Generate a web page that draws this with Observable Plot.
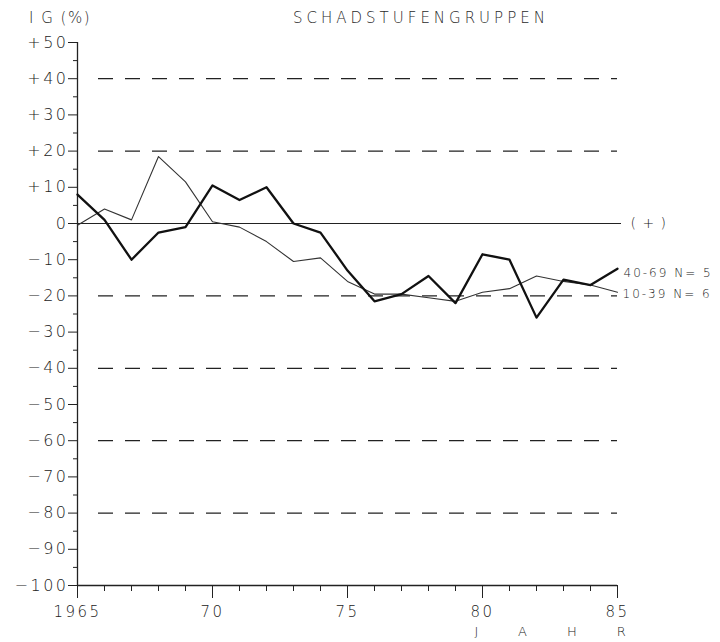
<!DOCTYPE html>
<html><head><meta charset="utf-8">
<script src="https://cdn.jsdelivr.net/npm/d3@7"></script>
<script src="https://cdn.jsdelivr.net/npm/@observablehq/plot@0.6"></script>
<style>
body{margin:0;background:#fff;font-family:"DejaVu Sans",sans-serif;}
#wrap{position:relative;width:720px;height:642px;overflow:hidden;}
#head{position:relative;height:28px;color:#2a2a2a;font-weight:200;font-size:15px;}
#yl{position:absolute;left:29px;top:9px;line-height:18px;letter-spacing:1.5px;}
#tt{position:absolute;left:293px;top:9px;line-height:18px;letter-spacing:4px;}
g[aria-label="y-axis tick label"]{letter-spacing:2.5px;}
g[aria-label="x-axis tick label"]{letter-spacing:2.5px;}
</style></head>
<body><div id="wrap"><div id="head"><span id="yl">I G (%)</span><span id="tt">SCHADSTUFENGRUPPEN</span></div><div id="chart"></div></div>
<script>
const years = [1965,1966,1967,1968,1969,1970,1971,1972,1973,1974,1975,1976,1977,1978,1979,1980,1981,1982,1983,1984,1985];
const thick4069 = [8,1,-10,-2.5,-1,10.5,6.5,10,0,-2.5,-13,-21.5,-19.5,-14.5,-22,-8.5,-10,-26,-15.5,-17,-12.5];
const thin1039 = [-0.5,4,1,18.5,11.5,0.5,-1,-5,-10.5,-9.5,-16,-19.5,-19.5,-20.5,-21.5,-19,-18,-14.5,-16,-17,-19];
const seriesLabels = ["40-69 N= 5", "10-39 N= 6"];
const yTicks = [50,40,30,20,10,0,-10,-20,-30,-40,-50,-60,-70,-80,-90,-100];
const yMinorTicks = [45,35,25,15,5,-5,-15,-25,-35,-45,-55,-65,-75,-85,-95];
const xTicks = [1965,1970,1975,1980,1985];
const xTickLabels = ["1965","70","75","80","85"];
const dashedLevels = [40,20,-20,-40,-60,-80];
const zeroLevel = [0];
const zeroLabel = "( + )";
const xAxisTitle = "JAHR";

const thickData = years.map((x,i)=>({x, y: thick4069[i]}));
const thinData = years.map((x,i)=>({x, y: thin1039[i]}));
const last = years.length - 1;

const ink = "#222";
const plot = Plot.plot({
  width: 720, height: 614,
  marginLeft: 77, marginRight: 103, marginTop: 14, marginBottom: 57,
  x: {domain: [1965, 1985], label: null},
  y: {domain: [-100, 50], label: null},
  style: {fontFamily: "DejaVu Sans, sans-serif", fontWeight: 200, color: ink, background: "#fff"},
  marks: [
    Plot.ruleY(dashedLevels, {stroke: ink, strokeWidth: 1.3, strokeDasharray: "15,12", insetLeft: 21}),
    Plot.ruleY(zeroLevel, {stroke: ink, strokeWidth: 1.1, insetRight: -4}),
    Plot.text([zeroLabel], {x: () => years[last], y: () => zeroLevel[0], text: d => d, textAnchor: "start", dx: 13, fontSize: 14, fill: ink}),
    Plot.ruleX([years[0]], {stroke: ink, strokeWidth: 1.3}),
    Plot.ruleY([yTicks[yTicks.length-1]], {stroke: ink, strokeWidth: 1.3}),
    Plot.axisY(yTicks, {tickSize: 9, tickPadding: 0, fontSize: 16, label: null,
      tickFormat: d => d > 0 ? "+" + d : d < 0 ? "\u2212" + (-d) : "0"}),
    Plot.axisY(yMinorTicks, {tickSize: 4, tickFormat: () => "", label: null}),
    Plot.axisX(xTicks, {tickSize: 13, tickPadding: 8, fontSize: 15, label: null,
      tickFormat: d => xTickLabels[xTicks.indexOf(d)]}),
    Plot.axisX(years, {tickSize: 6, tickFormat: () => "", label: null}),
    Plot.line(thinData, {x: "x", y: "y", stroke: "#333", strokeWidth: 1.1}),
    Plot.line(thickData, {x: "x", y: "y", stroke: "#111", strokeWidth: 2.3}),
    Plot.text([seriesLabels[0]], {x: () => years[last], y: () => thick4069[last], text: d => d, textAnchor: "start", dx: 6, dy: 4, fontSize: 12, fill: ink}),
    Plot.text([seriesLabels[1]], {x: () => years[last], y: () => thin1039[last], text: d => d, textAnchor: "start", dx: 5, dy: 1.5, fontSize: 12, fill: ink}),
    Plot.text([xAxisTitle], {frameAnchor: "bottom-right", text: d => d, textAnchor: "start", dx: -143, dy: 50, fontSize: 13, fill: ink})
  ]
});
document.getElementById("chart").appendChild(plot);
plot.querySelectorAll("text").forEach(t => {
  const s = t.textContent;
  if (s === xAxisTitle) t.setAttribute("letter-spacing", "40");
  else if (seriesLabels.includes(s)) t.setAttribute("letter-spacing", "2");
  else if (s === zeroLabel) t.setAttribute("letter-spacing", "1");
});
</script></body></html>
